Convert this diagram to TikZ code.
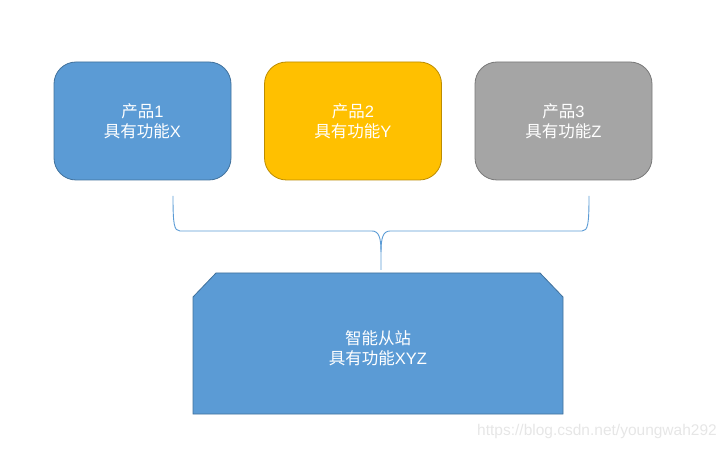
\documentclass[tikz,border=0pt]{standalone}
\usepackage{fontspec}
\setmainfont{Liberation Sans}
\newfontfamily\cjk{Noto Sans CJK SC}
\definecolor{bluef}{HTML}{5B9BD5}
\definecolor{blued}{HTML}{41719C}
\definecolor{goldf}{HTML}{FFC000}
\definecolor{goldd}{HTML}{BC8C00}
\definecolor{grayf}{HTML}{A5A5A5}
\definecolor{grayd}{HTML}{787878}
\definecolor{wm}{HTML}{E6E6E6}
\tikzset{
  prodbox/.style={rounded corners=22pt, minimum width=177pt, minimum height=118pt,
    inner sep=0pt, align=center, text=white, line width=0.8pt,
    font=\fontsize{16.5}{20}\selectfont},
  stationshape/.style={fill=bluef, draw=blued, line width=0.8pt},
  stationtext/.style={text=white, align=center, inner sep=0pt,
    font=\fontsize{16.5}{20}\selectfont},
  bracestyle/.style={draw=bluef, line width=0.9pt}
}
\begin{document}
\begin{tikzpicture}[x=1pt,y=-1pt]
\useasboundingbox (0,0) rectangle (726,449);
\node[prodbox, fill=bluef, draw=blued] (p1) at (142.5,121) {{\cjk 产品}1\\{\cjk 具有功能}X};
\node[prodbox, fill=goldf, draw=goldd] (p2) at (353,121) {{\cjk 产品}2\\{\cjk 具有功能}Y};
\node[prodbox, fill=grayf, draw=grayd] (p3) at (563.5,121) {{\cjk 产品}3\\{\cjk 具有功能}Z};
\path[stationshape] (193,297) -- (216,273) -- (540,273) -- (563,297) -- (563,414) -- (193,414) -- cycle;
\node[stationtext] (s) at (378,348) {{\cjk 智能从站}\\{\cjk 具有功能}XYZ};
\coordinate (bl) at (173,196);
\coordinate (br) at (589,196);
\coordinate (tip) at (381,270);
\path[bracestyle] (bl) .. controls (173,224) and (174,231) .. (180,231) -- (372,231)
  .. controls (379,231) and (381,238) .. (381,252) -- (tip);
\path[bracestyle] (br) .. controls (589,224) and (588,231) .. (582,231) -- (390,231)
  .. controls (383,231) and (381,238) .. (381,252);
\node[text=wm, font=\fontsize{15.5}{17}\selectfont, anchor=east, inner sep=0pt] (wmark) at (717,431) {https://blog.csdn.net/youngwah292};
\end{tikzpicture}
\end{document}
